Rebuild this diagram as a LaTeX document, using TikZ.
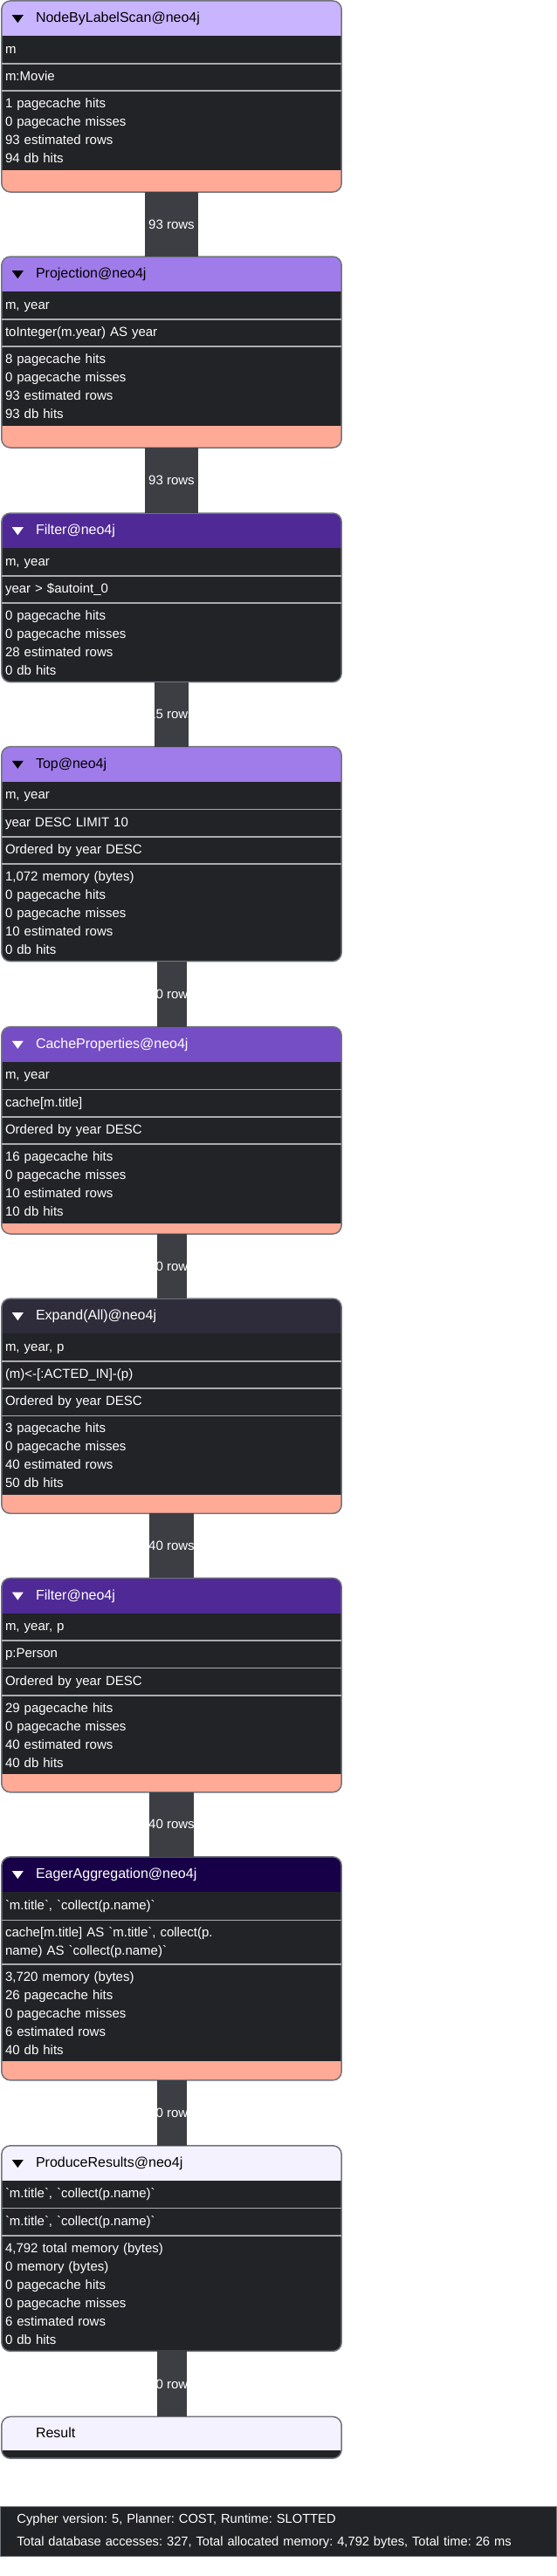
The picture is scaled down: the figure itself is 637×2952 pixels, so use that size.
\documentclass[tikz,border=0pt]{standalone}
\usepackage{fontspec}
\newfontfamily\opfont{Liberation Sans}
\usetikzlibrary{positioning,backgrounds}
\frenchspacing
\newcommand{\myrad}{10pt}
\newcommand{\boxw}{389pt}
\definecolor{bodycol}{RGB}{34,35,38}
\definecolor{tailcol}{RGB}{255,170,150}
\definecolor{barcol}{RGB}{60,62,67}
\definecolor{sepcol}{RGB}{172,172,175}
\definecolor{framecol}{RGB}{112,116,124}
\definecolor{scancol}{RGB}{201,180,255}
\definecolor{projcol}{RGB}{160,123,234}
\definecolor{filtcol}{RGB}{79,41,150}
\definecolor{cachecol}{RGB}{117,77,197}
\definecolor{expcol}{RGB}{46,43,58}
\definecolor{aggcol}{RGB}{24,0,72}
\definecolor{rescol}{RGB}{245,242,255}
\tikzset{
    txtsty/.style={font={\opfont\fontsize{15pt}{21pt}\selectfont}},
    hdrsty/.style={font={\opfont\fontsize{16pt}{21pt}\selectfont},rectangle,minimum width=\boxw,text width=311pt,inner xsep=39pt,inner ysep=0pt,minimum height=40pt,text height=12pt,text depth=3pt,anchor=north},
    cellsty/.style={txtsty,rectangle,text=white,minimum width=\boxw,text width=381pt,inner xsep=4pt,inner ysep=0pt},
    rowsty/.style={cellsty,minimum height=31pt,text height=11pt,text depth=3pt},
    statsty/.style={cellsty,align=left},
    tailsty/.style={rectangle,minimum width=\boxw,inner sep=0pt},
    barsty/.style={draw=barcol},
    lblsty/.style={txtsty,text=white,inner sep=0pt},
    sepsty/.style={draw=sepcol,line width=1.5pt},
    framesty/.style={draw=framecol,line width=1.5pt,rounded corners=\myrad},
    footsty/.style={font={\opfont\fontsize{14.7pt}{26pt}\selectfont},text=white,fill=bodycol,draw=framecol,line width=1pt,align=left,minimum width=637pt,text width=599pt,inner xsep=19pt,minimum height=57pt},
}
% fills behind one operator box: #1 header, #2 last node, #3 header colour, #4 bottom colour
\newcommand{\opframe}[4]{%
  \begin{scope}[on background layer]
    \begin{scope}
      \clip[rounded corners=\myrad] (#1.north west) rectangle (#2.south east);
      \fill[bodycol] (#1.north west) rectangle (#2.south east);
      \fill[#3] (#1.north west) rectangle (#1.south east);
      \fill[#4] (#2.north west) rectangle (#2.south east);
    \end{scope}
  \end{scope}
  \draw[framesty] (#1.north west) rectangle (#2.south east);
}
\newcommand{\optri}[2]{\fill[#2] ([xshift=12pt,yshift=4pt]#1.west) -- ++(13,0) -- ++(-6.5,9) -- cycle;}

\begin{document}
\begin{tikzpicture}[x=1pt,y=-1pt]
  \useasboundingbox (0,0) rectangle (637,2952);

  % NodeByLabelScan
  \node[hdrsty] (scanH) at (196.5,1) {NodeByLabelScan@neo4j};
  \node[rowsty,below=0pt of scanH] (scanA) {m};
  \node[rowsty,below=0pt of scanA] (scanB) {m:Movie};
  \node[statsty,minimum height=90pt,below=0pt of scanB] (scanS) {1 pagecache hits\\0 pagecache misses\\93 estimated rows\\94 db hits};
  \node[tailsty,minimum height=25pt,below=0pt of scanS] (scanT) {};
  \opframe{scanH}{scanT}{scancol}{tailcol}
  \optri{scanH}{black}
  \foreach \r in {scanA,scanB} \draw[sepsty] (\r.south west) -- (\r.south east);

  % Projection
  \node[hdrsty,below=74pt of scanT] (projH) {Projection@neo4j};
  \node[rowsty,below=0pt of projH] (projA) {m, year};
  \node[rowsty,below=0pt of projA] (projB) {toInteger(m.year) AS year};
  \node[statsty,minimum height=90pt,below=0pt of projB] (projS) {8 pagecache hits\\0 pagecache misses\\93 estimated rows\\93 db hits};
  \node[tailsty,minimum height=25pt,below=0pt of projS] (projT) {};
  \opframe{projH}{projT}{projcol}{tailcol}
  \optri{projH}{black}
  \foreach \r in {projA,projB} \draw[sepsty] (\r.south west) -- (\r.south east);
  \draw[barsty,line width=61pt] (scanT.south) -- (projH.north) node[lblsty,midway] {93 rows};

  % Filter
  \node[hdrsty,text=white,below=75pt of projT] (filtH) {Filter@neo4j};
  \node[rowsty,below=0pt of filtH] (filtA) {m, year};
  \node[rowsty,below=0pt of filtA] (filtB) {year > \$autoint\_0};
  \node[statsty,minimum height=90pt,below=0pt of filtB] (filtS) {0 pagecache hits\\0 pagecache misses\\28 estimated rows\\0 db hits};
  \opframe{filtH}{filtS}{filtcol}{bodycol}
  \optri{filtH}{white}
  \foreach \r in {filtA,filtB} \draw[sepsty] (\r.south west) -- (\r.south east);
  \draw[barsty,line width=61pt] (projT.south) -- (filtH.north) node[lblsty,midway] {93 rows};

  % Top
  \node[hdrsty,below=74pt of filtS] (topH) {Top@neo4j};
  \node[rowsty,below=0pt of topH] (topA) {m, year};
  \node[rowsty,below=0pt of topA] (topB) {year DESC LIMIT 10};
  \node[rowsty,below=0pt of topB] (topC) {Ordered by year DESC};
  \node[statsty,minimum height=111pt,below=0pt of topC] (topS) {1,072 memory (bytes)\\0 pagecache hits\\0 pagecache misses\\10 estimated rows\\0 db hits};
  \opframe{topH}{topS}{projcol}{bodycol}
  \optri{topH}{black}
  \foreach \r in {topA,topB,topC} \draw[sepsty] (\r.south west) -- (\r.south east);
  \draw[barsty,line width=39pt] (filtS.south) -- (topH.north) node[lblsty,midway] {15 rows};

  % CacheProperties
  \node[hdrsty,text=white,below=75pt of topS] (cacheH) {CacheProperties@neo4j};
  \node[rowsty,below=0pt of cacheH] (cacheA) {m, year};
  \node[rowsty,below=0pt of cacheA] (cacheB) {cache[m.title]};
  \node[rowsty,below=0pt of cacheB] (cacheC) {Ordered by year DESC};
  \node[statsty,minimum height=90pt,below=0pt of cacheC] (cacheS) {16 pagecache hits\\0 pagecache misses\\10 estimated rows\\10 db hits};
  \node[tailsty,minimum height=12pt,below=0pt of cacheS] (cacheT) {};
  \opframe{cacheH}{cacheT}{cachecol}{tailcol}
  \optri{cacheH}{white}
  \foreach \r in {cacheA,cacheB,cacheC} \draw[sepsty] (\r.south west) -- (\r.south east);
  \draw[barsty,line width=34pt] (topS.south) -- (cacheH.north) node[lblsty,midway] {10 rows};

  % Expand(All)
  \node[hdrsty,text=white,below=74pt of cacheT] (expH) {Expand(All)@neo4j};
  \node[rowsty,below=0pt of expH] (expA) {m, year, p};
  \node[rowsty,below=0pt of expA] (expB) {(m)<-[:ACTED\_IN]-(p)};
  \node[rowsty,below=0pt of expB] (expC) {Ordered by year DESC};
  \node[statsty,minimum height=90pt,below=0pt of expC] (expS) {3 pagecache hits\\0 pagecache misses\\40 estimated rows\\50 db hits};
  \node[tailsty,minimum height=21pt,below=0pt of expS] (expT) {};
  \opframe{expH}{expT}{expcol}{tailcol}
  \optri{expH}{white}
  \foreach \r in {expA,expB,expC} \draw[sepsty] (\r.south west) -- (\r.south east);
  \draw[barsty,line width=34pt] (cacheT.south) -- (expH.north) node[lblsty,midway] {10 rows};

  % Filter (p:Person)
  \node[hdrsty,text=white,below=74pt of expT] (pfiltH) {Filter@neo4j};
  \node[rowsty,below=0pt of pfiltH] (pfiltA) {m, year, p};
  \node[rowsty,below=0pt of pfiltA] (pfiltB) {p:Person};
  \node[rowsty,below=0pt of pfiltB] (pfiltC) {Ordered by year DESC};
  \node[statsty,minimum height=90pt,below=0pt of pfiltC] (pfiltS) {29 pagecache hits\\0 pagecache misses\\40 estimated rows\\40 db hits};
  \node[tailsty,minimum height=20pt,below=0pt of pfiltS] (pfiltT) {};
  \opframe{pfiltH}{pfiltT}{filtcol}{tailcol}
  \optri{pfiltH}{white}
  \foreach \r in {pfiltA,pfiltB,pfiltC} \draw[sepsty] (\r.south west) -- (\r.south east);
  \draw[barsty,line width=51pt] (expT.south) -- (pfiltH.north) node[lblsty,midway] {40 rows};

  % EagerAggregation
  \node[hdrsty,text=white,below=74pt of pfiltT] (aggH) {EagerAggregation@neo4j};
  \node[rowsty,minimum height=32pt,below=0pt of aggH] (aggA) {`m.title`, `collect(p.name)`};
  \node[statsty,minimum height=50pt,below=0pt of aggA] (aggB) {cache[m.title] AS `m.title`, collect(p.\\name) AS `collect(p.name)`};
  \node[statsty,minimum height=111pt,below=0pt of aggB] (aggS) {3,720 memory (bytes)\\26 pagecache hits\\0 pagecache misses\\6 estimated rows\\40 db hits};
  \node[tailsty,minimum height=21pt,below=0pt of aggS] (aggT) {};
  \opframe{aggH}{aggT}{aggcol}{tailcol}
  \optri{aggH}{white}
  \foreach \r in {aggA,aggB} \draw[sepsty] (\r.south west) -- (\r.south east);
  \draw[barsty,line width=51pt] (pfiltT.south) -- (aggH.north) node[lblsty,midway] {40 rows};

  % ProduceResults
  \node[hdrsty,below=75pt of aggT] (prodH) {ProduceResults@neo4j};
  \node[rowsty,below=0pt of prodH] (prodA) {`m.title`, `collect(p.name)`};
  \node[rowsty,below=0pt of prodA] (prodB) {`m.title`, `collect(p.name)`};
  \node[statsty,minimum height=132pt,below=0pt of prodB] (prodS) {4,792 total memory (bytes)\\0 memory (bytes)\\0 pagecache hits\\0 pagecache misses\\6 estimated rows\\0 db hits};
  \opframe{prodH}{prodS}{rescol}{bodycol}
  \optri{prodH}{black}
  \foreach \r in {prodA,prodB} \draw[sepsty] (\r.south west) -- (\r.south east);
  \draw[barsty,line width=34pt] (aggT.south) -- (prodH.north) node[lblsty,midway] {10 rows};

  % Result
  \node[hdrsty,minimum height=38pt,below=75pt of prodS] (resH) {Result};
  \node[tailsty,minimum height=9pt,below=0pt of resH] (resT) {};
  \opframe{resH}{resT}{rescol}{bodycol}
  \draw[barsty,line width=34pt] (prodS.south) -- (resH.north) node[lblsty,midway] {10 rows};

  % summary
  \node[footsty,anchor=north west] (foot) at (0,2872) {Cypher version: 5, Planner: COST, Runtime: SLOTTED\\Total database accesses: 327, Total allocated memory: 4,792 bytes, Total time: 26 ms};
\end{tikzpicture}
\end{document}
